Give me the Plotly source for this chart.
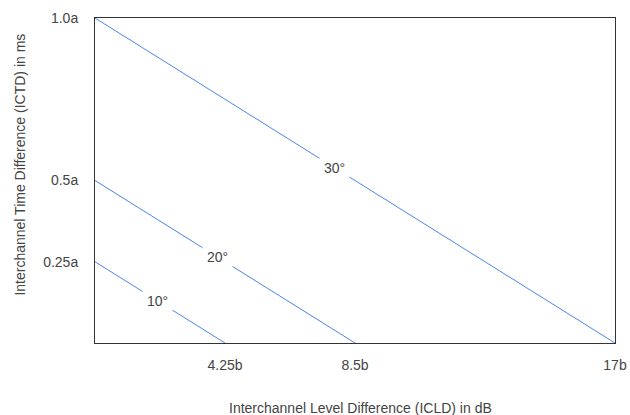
import plotly.graph_objects as go

# Data
angles = ["10°", "20°", "30°"]
icld_max = [4.25, 8.5, 17]          # x-intercepts (in b)
ictd_max = [0.25, 0.5, 1.0]         # y-intercepts (in a)
label_frac = [0.477, 0.473, 0.4615]  # fraction along each line for labels

x_tickvals = [4.25, 8.5, 17]
x_ticktext = ["4.25b", "8.5b", "17b"]
y_tickvals = [0.25, 0.5, 1.0]
y_ticktext = ["0.25a", "0.5a", "1.0a"]

x_title = "Interchannel Level Difference (ICLD) in dB"
y_title = "Interchannel Time Difference (ICTD) in ms"

line_color = "#4a86e8"
text_color = "#444"
font_fam = "Liberation Sans, Arial, sans-serif"

fig = go.Figure()
for name, xm, ym in zip(angles, icld_max, ictd_max):
    fig.add_trace(go.Scatter(x=[0, xm], y=[ym, 0], mode="lines",
                             line=dict(color=line_color, width=1),
                             showlegend=False, hoverinfo="skip"))

for name, xm, ym, f in zip(angles, icld_max, ictd_max, label_frac):
    fig.add_annotation(x=xm * f, y=ym * (1 - f), text=name, showarrow=False,
                       font=dict(family=font_fam, size=14, color=text_color),
                       bgcolor="white", borderpad=4)

# axis titles as annotations (positioned like the reference)
fig.add_annotation(xref="paper", yref="paper", x=0.5115, y=-0.2,
                   xanchor="center", yanchor="middle", text=x_title,
                   showarrow=False,
                   font=dict(family=font_fam, size=14, color=text_color))
fig.add_annotation(xref="paper", yref="paper", x=-0.1442, y=0.549,
                   xanchor="center", yanchor="middle", text=y_title,
                   textangle=-90, showarrow=False,
                   font=dict(family=font_fam, size=14, color=text_color))

fig.update_layout(
    width=630, height=415,
    margin=dict(l=95, r=15, t=18, b=72, autoexpand=False),
    paper_bgcolor="white", plot_bgcolor="white",
    font=dict(family=font_fam, size=14, color=text_color),
)
fig.update_xaxes(range=[0, 17], tickvals=x_tickvals, ticktext=x_ticktext,
                 showgrid=False, zeroline=False, showline=True, mirror=True,
                 linecolor="#333", linewidth=1, ticks="", ticklabelstandoff=9,
                 automargin=False)
fig.update_yaxes(range=[0, 1], tickvals=y_tickvals, ticktext=y_ticktext,
                 showgrid=False, zeroline=False, showline=True, mirror=True,
                 linecolor="#333", linewidth=1, ticks="", ticklabelstandoff=13,
                 automargin=False)

fig.write_html(
    "out.html",
    config={"displayModeBar": False},
    post_script="document.body.style.margin='0';document.body.style.overflow='hidden';",
)
